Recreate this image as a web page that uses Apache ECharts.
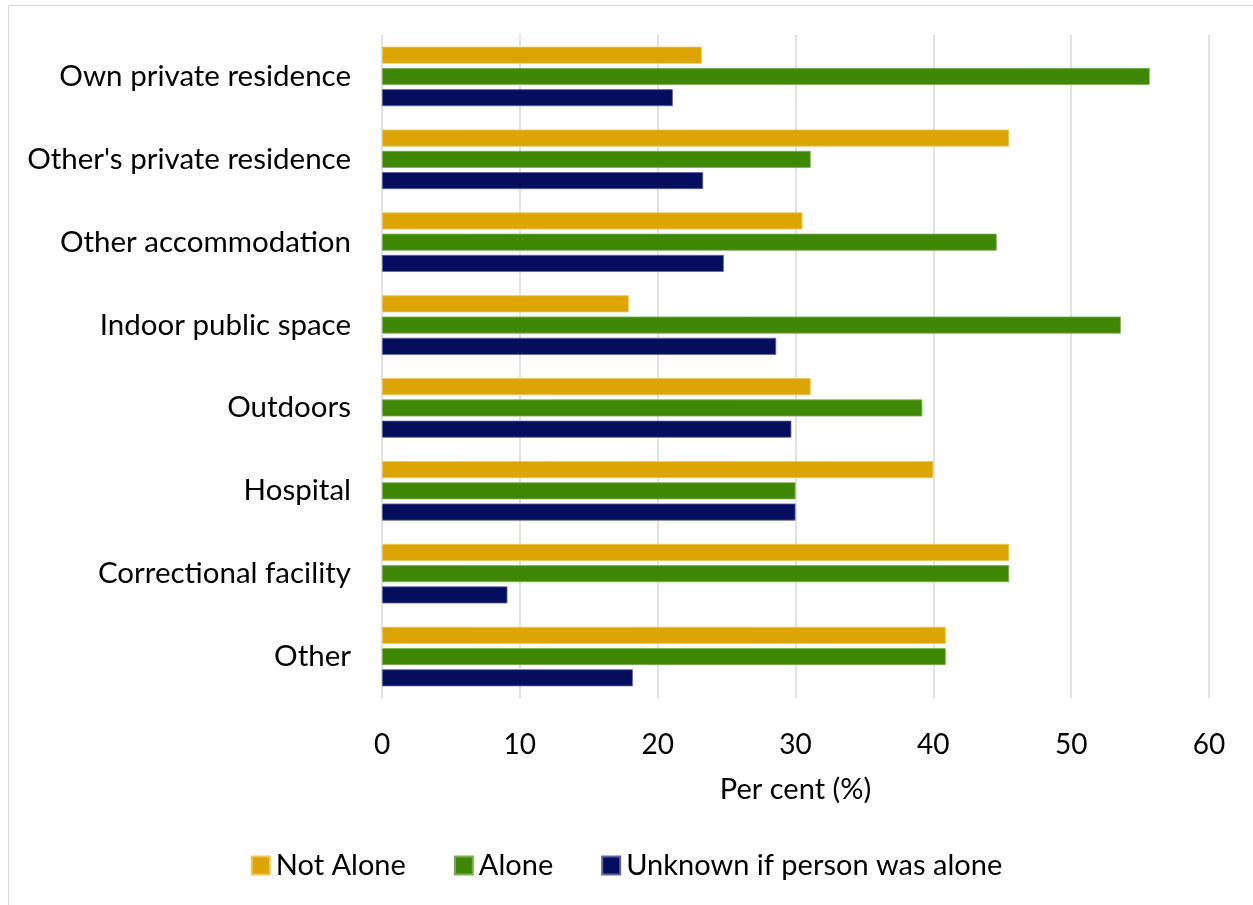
<!DOCTYPE html>
<html>
<head>
<meta charset="utf-8">
<script src="https://cdn.jsdelivr.net/npm/echarts@6/dist/echarts.min.js"></script>
<style>
html,body{margin:0;padding:0;background:#fff;}
#frame{position:absolute;left:8px;top:5px;width:1260px;height:910px;border:1px solid #d9d9d9;box-sizing:border-box;}
#chart{position:absolute;left:0;top:0;width:1253px;height:905px;}
</style>
</head>
<body>
<div id="frame"></div>
<div id="chart"></div>
<script>
const categories = ["Own private residence","Other's private residence","Other accommodation","Indoor public space","Outdoors","Hospital","Correctional facility","Other"];
const notAlone = [23.2, 45.5, 30.5, 17.9, 31.1, 40.0, 45.5, 40.9];
const alone = [55.7, 31.1, 44.6, 53.6, 39.2, 30.0, 45.5, 40.9];
const unknown = [21.1, 23.3, 24.8, 28.6, 29.7, 30.0, 9.1, 18.2];
const seriesNames = ["Not Alone", "Alone", "Unknown if person was alone"];
const xTicks = {min: 0, max: 60, interval: 10};

const colors = ['#DDA503', '#3F8806', '#040E5C'];
const borders = ['#EBC65A', '#7DAE55', '#5E64A0'];
const font = 'Lato, "Open Sans", sans-serif';
const chart = echarts.init(document.getElementById('chart'));
const mk = (name, data, i) => ({
  name, type: 'bar', data,
  barWidth: 17, barGap: '25%',
  itemStyle: {color: colors[i], borderColor: borders[i], borderWidth: 0.8},
  animation: false
});
chart.setOption({
  animation: false,
  textStyle: {fontFamily: font},
  grid: {left: 382, right: 44, top: 35, bottom: 207, containLabel: false},
  xAxis: {
    type: 'value', min: xTicks.min, max: xTicks.max, interval: xTicks.interval,
    axisLine: {show: false}, axisTick: {show: false},
    axisLabel: {fontSize: 28, color: '#000', margin: 33, fontFamily: font},
    splitLine: {lineStyle: {color: '#d9d9d9', width: 1.5}},
    name: 'Per cent (%)', nameLocation: 'middle', nameGap: 77,
    nameTextStyle: {fontSize: 29, color: '#000', fontFamily: font}
  },
  yAxis: {
    type: 'category', data: categories, inverse: true,
    axisLine: {show: false}, axisTick: {show: false},
    axisLabel: {fontSize: 29.5, color: '#000', margin: 31, fontFamily: font}
  },
  legend: {
    top: 846, left: 'center', itemWidth: 18, itemHeight: 18, itemGap: 48,
    icon: 'rect',
    textStyle: {fontSize: 29, color: '#000', fontFamily: font, padding: [0,0,0,1]},
    data: seriesNames
  },
  series: [mk(seriesNames[0], notAlone, 0), mk(seriesNames[1], alone, 1), mk(seriesNames[2], unknown, 2)]
});
</script>
</body>
</html>
